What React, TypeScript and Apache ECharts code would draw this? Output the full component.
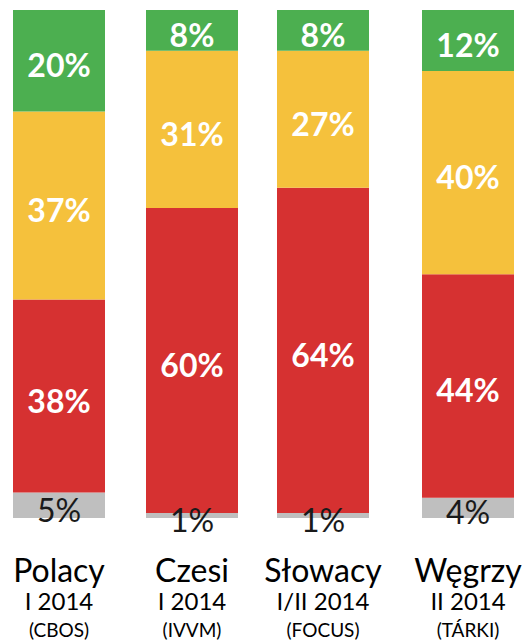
import React, { useEffect, useRef } from "react";
import * as echarts from "echarts";

const categories = ["Polacy", "Czesi", "Słowacy", "Węgrzy"];
const periods = ["I 2014", "I 2014", "I/II 2014", "II 2014"];
const sources = ["(CBOS)", "(IVVM)", "(FOCUS)", "(TÁRKI)"];
const greyValues = [5, 1, 1, 4];
const redValues = [38, 60, 64, 44];
const yellowValues = [37, 31, 27, 40];
const greenValues = [20, 8, 8, 12];

const gridLefts = [13, 146, 277, 422];
const BAR_W = 92;
const FONT = "Lato, 'Open Sans', sans-serif";

export default function App() {
  const ref = useRef<HTMLDivElement>(null);
  useEffect(() => {
    document.body.style.margin = "0";
    const chart = echarts.init(ref.current!, null, { renderer: "svg" });
    const grids: any[] = [];
    const xAxes: any[] = [];
    const yAxes: any[] = [];
    const series: any[] = [];
    const layers = [
      { name: "grey", values: greyValues, color: "#BFBFBF", text: "#1a1a1a", bold: false },
      { name: "red", values: redValues, color: "#D63131", text: "#ffffff", bold: true },
      { name: "yellow", values: yellowValues, color: "#F5C13C", text: "#ffffff", bold: true },
      { name: "green", values: greenValues, color: "#4CAF50", text: "#ffffff", bold: true },
    ];
    categories.forEach((cat, i) => {
      grids.push({ left: gridLefts[i], width: BAR_W, top: 10, height: 508 });
      xAxes.push({
        type: "category",
        gridIndex: i,
        data: [cat],
        axisLine: { show: false },
        axisTick: { show: false },
        axisLabel: {
          margin: 34,
          interval: 0,
          formatter: () => `{a|${cat}}\n{b|${periods[i]}}\n{c|${sources[i]}}`,
          rich: {
            a: { fontFamily: FONT, fontSize: 32, color: "#000", lineHeight: 34 },
            b: { fontFamily: FONT, fontSize: 24, color: "#000", lineHeight: 29 },
            c: { fontFamily: FONT, fontSize: 19, color: "#000", lineHeight: 28 },
          },
        },
      });
      yAxes.push({ type: "value", gridIndex: i, min: 0, max: 100, show: false });
      layers.forEach((l) => {
        series.push({
          type: "bar",
          name: l.name,
          xAxisIndex: i,
          yAxisIndex: i,
          stack: "s" + i,
          barWidth: BAR_W,
          data: [l.values[i]],
          itemStyle: { color: l.color },
          label: {
            show: true,
            position: "inside",
            offset: [0, 4],
            formatter: "{c}%",
            fontFamily: FONT,
            fontSize: l.bold ? 32 : 32,
            fontWeight: l.bold ? "bold" : "normal",
            color: l.text,
          },
        });
      });
    });
    chart.setOption({
      animation: false,
      backgroundColor: "#ffffff",
      grid: grids,
      xAxis: xAxes,
      yAxis: yAxes,
      series,
    });
    return () => chart.dispose();
  }, []);
  return <div ref={ref} style={{ width: 528, height: 644 }} />;
}
